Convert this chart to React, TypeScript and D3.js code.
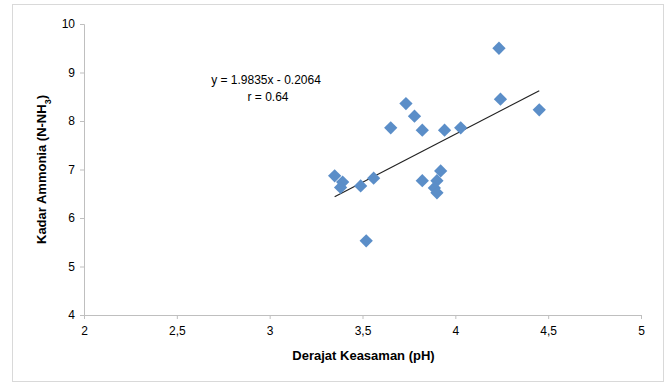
import React, { useEffect, useRef } from 'react';
import * as d3 from 'd3';

// pH vs ammonia readings
const phValues = [4.235, 3.734, 3.78, 3.652, 3.822, 3.942, 4.029, 4.243, 4.452, 3.35, 3.393, 3.382, 3.49, 3.56, 3.52, 3.822, 3.921, 3.901, 3.887, 3.901];
const ammoniaValues = [9.5, 8.36, 8.1, 7.86, 7.81, 7.81, 7.86, 8.45, 8.23, 6.87, 6.74, 6.63, 6.66, 6.82, 5.53, 6.77, 6.97, 6.77, 6.62, 6.52];
const xTicks = [2, 2.5, 3, 3.5, 4, 4.5, 5];
const yTicks = [4, 5, 6, 7, 8, 9, 10];
const slope = 1.9835;
const intercept = -0.2064;

const App = () => {
  const svgRef = useRef(null);

  useEffect(() => {
    document.body.style.margin = '0';
    const width = 668, height = 384;
    const margin = { top: 24, right: 27, bottom: 69, left: 84 };

    const svg = d3.select(svgRef.current).attr('width', width).attr('height', height);
    svg.selectAll('*').remove();

    const font = "'Liberation Sans', Arial, sans-serif";

    // outer frame
    svg.append('rect')
      .attr('x', 12.5).attr('y', 4.5)
      .attr('width', 651).attr('height', 377)
      .attr('fill', '#fff')
      .attr('stroke', '#d9d9d9');

    const x = d3.scaleLinear().domain([2, 5]).range([margin.left, width - margin.right]);
    const y = d3.scaleLinear().domain([4, 10]).range([height - margin.bottom, margin.top]);

    // axes
    const xAxis = svg.append('g')
      .attr('transform', `translate(0,${y(4)})`)
      .call(d3.axisBottom(x).tickValues(xTicks).tickSize(4).tickPadding(7)
        .tickFormat(d => String(d).replace('.', ',')));
    const yAxis = svg.append('g')
      .attr('transform', `translate(${x(2)},0)`)
      .call(d3.axisLeft(y).tickValues(yTicks).tickSize(4).tickPadding(5)
        .tickFormat(d3.format('d')));

    [xAxis, yAxis].forEach(a => {
      a.select('.domain').attr('stroke', '#bfbfbf');
      a.selectAll('.tick line').attr('stroke', '#bfbfbf');
      a.selectAll('.tick text')
        .attr('fill', '#000')
        .style('font-family', font)
        .style('font-size', '12px');
    });

    // trend line
    const xMin = d3.min(phValues), xMax = d3.max(phValues);
    svg.append('line')
      .attr('x1', x(xMin)).attr('y1', y(slope * xMin + intercept))
      .attr('x2', x(xMax)).attr('y2', y(slope * xMax + intercept))
      .attr('stroke', '#222')
      .attr('stroke-width', 1.2);

    // markers
    const diamond = d3.symbol().type(d3.symbolSquare).size(88)();
    svg.selectAll('.pt')
      .data(phValues.map((v, i) => [v, ammoniaValues[i]]))
      .enter()
      .append('path')
      .attr('d', diamond)
      .attr('transform', d => `translate(${x(d[0])},${y(d[1])}) rotate(45)`)
      .attr('fill', '#5b8ec8');

    // equation label
    const eq = svg.append('text')
      .attr('text-anchor', 'middle')
      .style('font-family', font)
      .style('font-size', '12px')
      .attr('fill', '#000');
    eq.append('tspan').attr('x', 266).attr('y', 84).text(`y = ${slope}x - ${Math.abs(intercept)}`);
    eq.append('tspan').attr('x', 268).attr('y', 101).text('r = 0.64');

    // axis titles
    svg.append('text')
      .attr('x', (x(2) + x(5)) / 2 + 1)
      .attr('y', 360)
      .attr('text-anchor', 'middle')
      .style('font-family', font)
      .style('font-size', '13px')
      .style('font-weight', 'bold')
      .text('Derajat Keasaman (pH)');

    const yt = svg.append('text')
      .attr('transform', `translate(46,${(y(4) + y(10)) / 2}) rotate(-90)`)
      .attr('text-anchor', 'middle')
      .style('font-family', font)
      .style('font-size', '13px')
      .style('font-weight', 'bold');
    yt.append('tspan').text('Kadar Ammonia (N-NH');
    yt.append('tspan').attr('baseline-shift', 'sub').style('font-size', '9px').text('3');
    yt.append('tspan').text(')');
  }, []);

  return <svg ref={svgRef} style={{ display: 'block' }}></svg>;
};

export default App;
